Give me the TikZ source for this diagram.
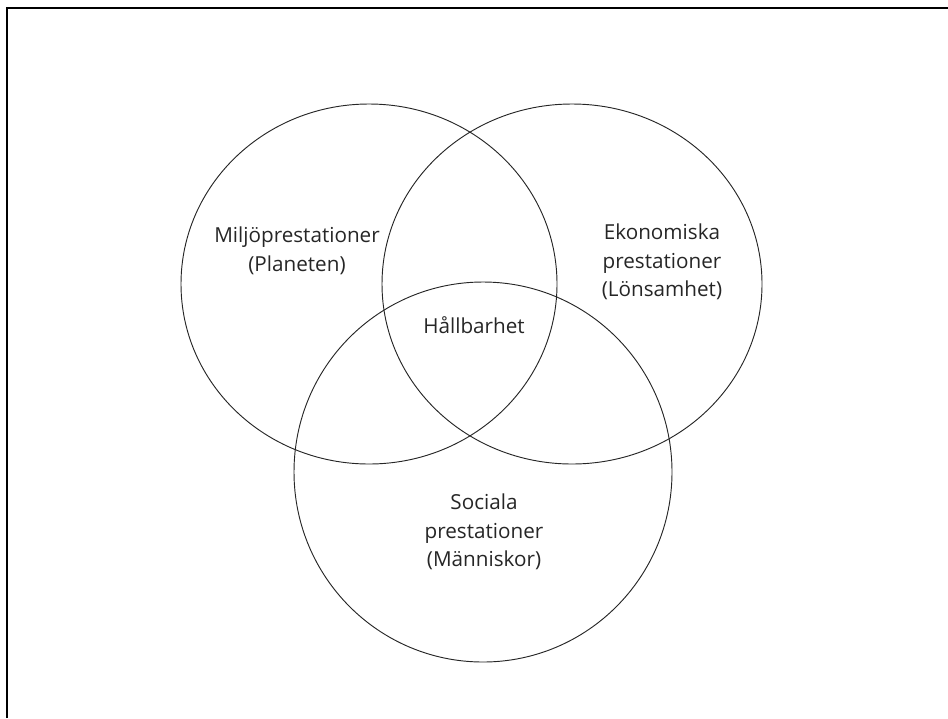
\documentclass[tikz,border=0pt]{standalone}
\usepackage{fontspec}
\setmainfont{Open Sans}
\usetikzlibrary{shapes.geometric}

\begin{document}
\begin{tikzpicture}[x=0.75pt, y=-0.75pt]
    \useasboundingbox (0,0) rectangle (948,718);

    % Ram
    \draw[line width=1.5pt] (6.5,718) -- (6.5,8) -- (948,8);

    % Cirklar i en loop
    \foreach \x/\y/\w/\h/\namn in {369/284/282pt/270pt/miljo, 572/284/285pt/270pt/ekonomi, 483/472/283.5pt/285pt/social} {
        \node[ellipse, draw=black!85, line width=0.7pt, minimum width=\w, minimum height=\h, inner sep=0pt] (\namn) at (\x,\y) {};
    }

    % Texter
    \tikzset{etikett/.style={align=center, text=black!85, font=\fontsize{15.5}{21.5}\selectfont}}
    \node[etikett] (miljotext) at (297,251) {Miljöprestationer\\(Planeten)};
    \node[etikett] (ekonomitext) at (662,262) {Ekonomiska\\prestationer\\(Lönsamhet)};
    \node[etikett] (mitt) at (474,325) {Hållbarhet};
    \node[etikett] (socialtext) at (484,532) {Sociala\\prestationer\\(Människor)};

\end{tikzpicture}
\end{document}
